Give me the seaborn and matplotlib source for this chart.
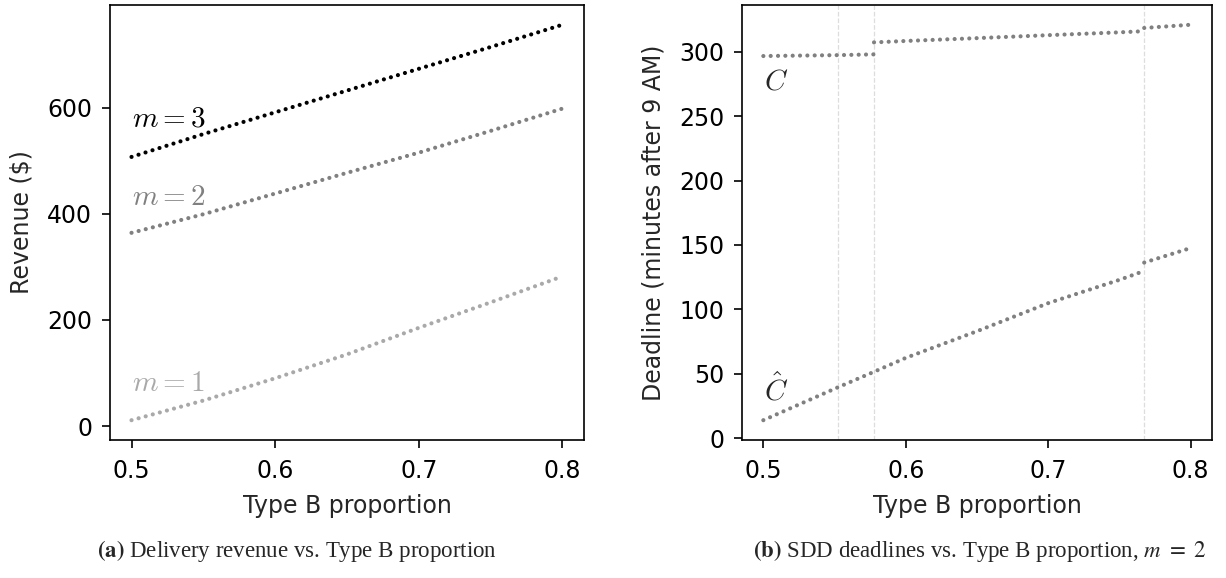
import numpy as np
import pandas as pd
import seaborn as sns
import matplotlib.pyplot as plt

# ---- data ----
# (a) delivery revenue vs. type B proportion
prop = [0.50, 0.55, 0.60, 0.65, 0.70, 0.75, 0.80]
rev_m1 = [11, 48, 90, 135, 185, 233, 282]
rev_m2 = [364, 399, 438, 477, 515, 556, 598]
rev_m3 = [507, 550, 591, 632, 673, 714, 756]

# (b) SDD deadlines, m = 2 (piecewise, breaks at the dashed lines)
breaks = [0.5525, 0.5777, 0.7674]
c_x1 = [0.50, 0.5525, 0.5777]
c_y1 = [296.7, 297.4, 298.0]
c_x2 = [0.5777, 0.60, 0.65, 0.70, 0.75, 0.7674]
c_y2 = [307.3, 308.4, 310.6, 312.9, 315.1, 316.0]
c_x3 = [0.7674, 0.80]
c_y3 = [318.5, 321.0]
chat_x1 = [0.50, 0.5525, 0.5777, 0.60, 0.65, 0.70, 0.75, 0.7674]
chat_y1 = [13.9, 39.5, 51.5, 62.3, 83.0, 104.8, 122.9, 129.8]
chat_x2 = [0.7674, 0.80]
chat_y2 = [136.3, 147.6]

rev = pd.DataFrame({
    'prop': prop * 3,
    'revenue': rev_m1 + rev_m2 + rev_m3,
    'm': ['1'] * len(prop) + ['2'] * len(prop) + ['3'] * len(prop),
})
m_colors = {'1': '#a9a9a9', '2': '#808080', '3': '#000000'}

segments = [(c_x1, c_y1), (c_x2, c_y2), (c_x3, c_y3), (chat_x1, chat_y1), (chat_x2, chat_y2)]
dl = pd.concat([pd.DataFrame({'prop': sx, 'deadline': sy, 'seg': i})
                for i, (sx, sy) in enumerate(segments)], ignore_index=True)

# ---- style ----
sns.set_style('ticks')
plt.rcParams['font.family'] = ['DejaVu Sans']
plt.rcParams['mathtext.fontset'] = 'cm'
plt.rcParams['axes.linewidth'] = 1.2
plt.rcParams['xtick.major.width'] = 1.2
plt.rcParams['ytick.major.width'] = 1.2
plt.rcParams['xtick.major.size'] = 6
plt.rcParams['ytick.major.size'] = 6
plt.rcParams['xtick.major.pad'] = 8
plt.rcParams['ytick.major.pad'] = 6.8
plt.rcParams['xtick.labelsize'] = 17
plt.rcParams['ytick.labelsize'] = 17
plt.rcParams['axes.labelsize'] = 17
plt.rcParams['axes.edgecolor'] = 'black'
plt.rcParams['xtick.color'] = 'black'
plt.rcParams['ytick.color'] = 'black'

dotted = dict(linewidth=3.0, linestyle=(0, (0.01, 1.75)), dash_capstyle='round')

fig = plt.figure(figsize=(12.26, 5.78), dpi=100)
ax1 = fig.add_axes([0.0897, 0.2388, 0.3866, 0.7526])
ax2 = fig.add_axes([0.6052, 0.2388, 0.3834, 0.7526])

# (a)
sns.lineplot(data=rev, x='prop', y='revenue', hue='m', palette=m_colors,
             ax=ax1, legend=False, **dotted)
ax1.set_xticks([0.5, 0.6, 0.7, 0.8])
ax1.set_yticks([0, 200, 400, 600])
ax1.set_xlabel('Type B proportion', labelpad=7.5)
ax1.set_ylabel('Revenue ($)', labelpad=10)
label_y = {'3': 564, '2': 417, '1': 66}
for m in ['3', '2', '1']:
    ax1.text(0.5, label_y[m], f'$m={m}$', color=m_colors[m], fontsize=21,
             ha='left', va='baseline')

# (b)
for b in breaks:
    ax2.axvline(b, color='#dddddd', linestyle='--', linewidth=0.9, zorder=0)
sns.lineplot(data=dl, x='prop', y='deadline', units='seg', estimator=None,
             color='#808080', ax=ax2, **dotted)
ax2.set_xticks([0.5, 0.6, 0.7, 0.8])
ax2.set_yticks([0, 50, 100, 150, 200, 250, 300])
ax2.set_xlabel('Type B proportion', labelpad=7.5)
ax2.set_ylabel('Deadline (minutes after 9 AM)', labelpad=10)
ax2.text(0.5007, 271, '$C$', fontsize=21, ha='left', va='baseline')
ax2.text(0.5007, 29, r'$\hat{C}$', fontsize=21, ha='left', va='baseline')

# captions
fig.text(297 / 1226, 1 - 551 / 578, r'$\mathbf{(a)}$ Delivery revenue vs. Type B proportion',
         family='Liberation Serif', math_fontfamily='stix', fontsize=16.5, ha='center', va='center')
fig.text(980 / 1226, 1 - 551 / 578, r'$\mathbf{(b)}$ SDD deadlines vs. Type B proportion, $m\ =\ 2$',
         family='Liberation Serif', math_fontfamily='stix', fontsize=16.5, ha='center', va='center')

plt.savefig('out.png', dpi=100)
